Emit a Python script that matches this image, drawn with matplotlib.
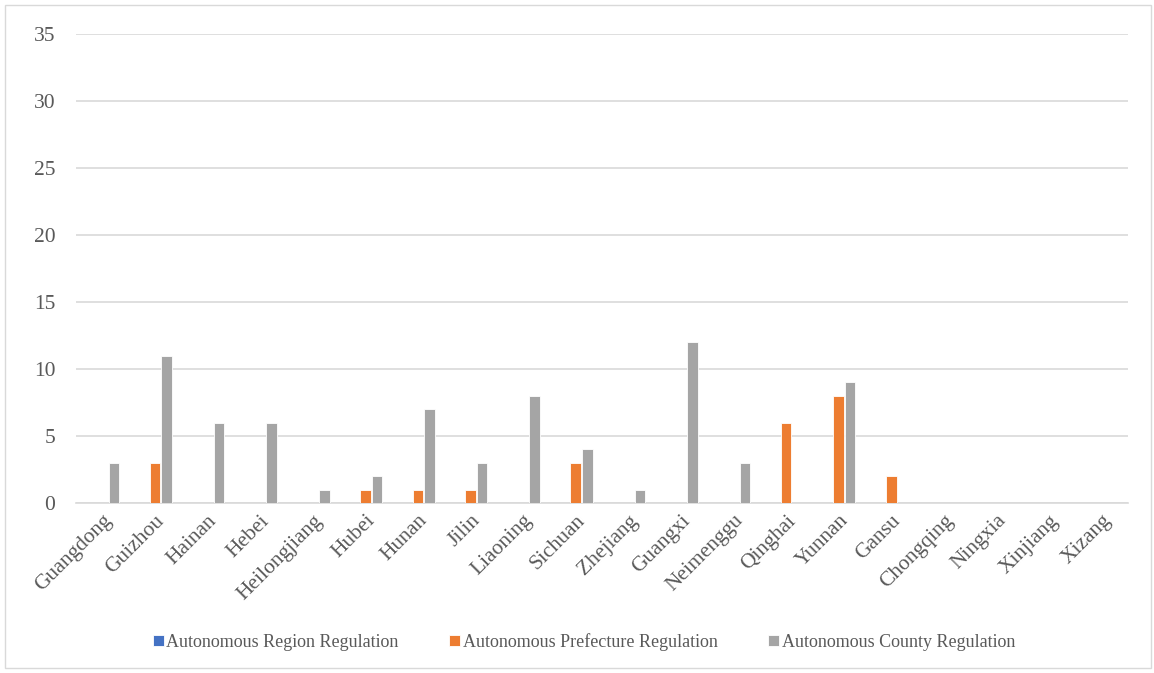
import matplotlib.pyplot as plt
import numpy as np
from matplotlib.patches import Rectangle

provinces = ["Guangdong", "Guizhou", "Hainan", "Hebei", "Heilongjiang", "Hubei",
             "Hunan", "Jilin", "Liaoning", "Sichuan", "Zhejiang", "Guangxi",
             "Neimenggu", "Qinghai", "Yunnan", "Gansu", "Chongqing", "Ningxia",
             "Xinjiang", "Xizang"]
region_reg = [0, 0, 0, 0, 0, 0, 0, 0, 0, 0, 0, 0, 0, 0, 0, 0, 0, 0, 0, 0]
prefecture_reg = [0, 3, 0, 0, 0, 1, 1, 1, 0, 3, 0, 0, 0, 6, 8, 2, 0, 0, 0, 0]
county_reg = [3, 11, 6, 6, 1, 2, 7, 3, 8, 4, 1, 12, 3, 0, 9, 0, 0, 0, 0, 0]

series = [
    ("Autonomous Region Regulation", region_reg, "#4472C4"),
    ("Autonomous Prefecture Regulation", prefecture_reg, "#ED7D31"),
    ("Autonomous County Regulation", county_reg, "#A5A5A5"),
]

plt.rcParams["font.family"] = ["Liberation Serif", "DejaVu Serif"]

fig = plt.figure(figsize=(11.54, 6.73), dpi=100)
ax = fig.add_axes([0.0659, 0.2526, 0.9115, 0.6969])

x = np.arange(len(provinces))
w = 0.2
for i, (name, vals, color) in enumerate(series):
    ax.bar(x + (i - 1) * 0.22, vals, width=w, color=color, label=name,
           edgecolor="white", linewidth=0.6, zorder=3)

ax.set_xlim(-0.5, len(provinces) - 0.5)
ax.set_ylim(0, 35)
ax.set_yticks(range(0, 36, 5))
ax.grid(axis="y", color="#D9D9D9", linewidth=1.2, zorder=0)
for s in ["top", "right", "left"]:
    ax.spines[s].set_visible(False)
ax.spines["bottom"].set_color("#D9D9D9")
ax.spines["bottom"].set_linewidth(1.2)
ax.tick_params(axis="both", length=0, colors="#595959", labelsize=15.5)
ax.tick_params(axis="y", pad=15)
ax.tick_params(axis="x", pad=6)
ax.set_xticks(x)
ax.set_xticklabels(provinces, rotation=45, ha="right", va="top",
                   rotation_mode="anchor", fontsize=15.5)

fig.legend(loc="center", bbox_to_anchor=(0.506, 0.046), ncol=3, frameon=False,
           fontsize=13, handlelength=0.6, handleheight=0.6, handletextpad=0.15,
           columnspacing=2.8, labelcolor="#595959")

fig.add_artist(Rectangle((0.0045, 0.007), 0.9925, 0.986, transform=fig.transFigure,
                         fill=False, edgecolor="#D9D9D9", linewidth=1))

fig.savefig("out.png", dpi=100)
